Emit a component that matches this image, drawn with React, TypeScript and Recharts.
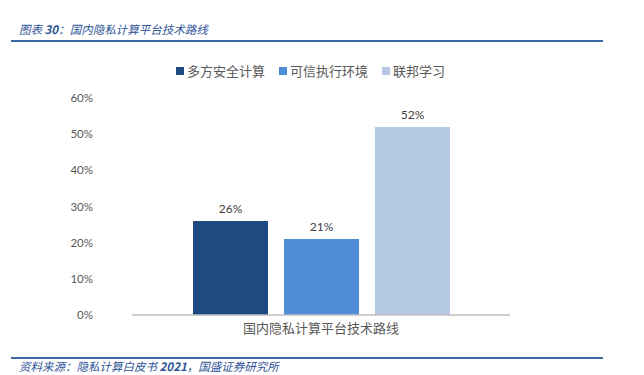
import React from 'react';
import { BarChart, Bar, XAxis, YAxis, LabelList } from 'recharts';

const categories = ['国内隐私计算平台技术路线'];
const seriesNames = ['多方安全计算', '可信执行环境', '联邦学习'];
const seriesValues = [26, 21, 52];
const seriesColors = ['#1d4a80', '#4f8ed6', '#b5c9e4'];
const yTicks = [0, 10, 20, 30, 40, 50, 60];

const data = categories.map((name) => {
  const row: Record<string, string | number> = { name };
  seriesNames.forEach((s, i) => {
    row[s] = seriesValues[i];
  });
  return row;
});

const ChartLegend = () => (
  <div
    style={{
      position: 'absolute',
      left: 176,
      top: 61,
      display: 'flex',
      gap: 14,
      fontFamily: '"Noto Sans CJK SC", sans-serif',
      fontSize: 13,
      color: '#595959',
      whiteSpace: 'nowrap',
    }}
  >
    {seriesNames.map((s, i) => (
      <div key={s} style={{ display: 'flex', alignItems: 'center' }}>
        <span style={{ width: 8, height: 8, background: seriesColors[i], display: 'inline-block', marginRight: 3 }} />
        <span>{s}</span>
      </div>
    ))}
  </div>
);

const noteStyle: React.CSSProperties = {
  position: 'absolute',
  left: 19,
  fontSize: 11.5,
  fontStyle: 'italic',
  color: '#2f5597',
  fontFamily: '"Noto Sans CJK SC", sans-serif',
  whiteSpace: 'nowrap',
};

export default function App() {
  return (
    <div style={{ position: 'absolute', left: 0, top: 0, width: 644, height: 375, background: '#fff' }}>
      <div style={{ ...noteStyle, top: 21 }}>
        图表 <b>30</b>：国内隐私计算平台技术路线
      </div>
      <div style={{ position: 'absolute', left: 11, top: 40, width: 592, height: 2, background: '#3d6aa6' }} />
      <div style={{ position: 'absolute', left: 11, top: 357, width: 592, height: 2, background: '#3d6aa6' }} />
      <div style={{ ...noteStyle, top: 358 }}>
        资料来源：隐私计算白皮书 <b>2021</b>，国盛证券研究所
      </div>
      <div style={{ position: 'absolute', left: 0, top: 0 }}>
        <BarChart
          width={644}
          height={375}
          data={data}
          margin={{ top: 98, right: 134, left: 0, bottom: 27 }}
          barSize={75}
          barGap={16}
        >
          <XAxis
            dataKey="name"
            axisLine={{ stroke: '#bfbfbf', strokeWidth: 1.5 }}
            tickLine={false}
            tickSize={0}
            tickMargin={9}
            height={33}
            tick={{ fill: '#595959', fontSize: 13, fontFamily: '"Noto Sans CJK SC", sans-serif' }}
          />
          <YAxis
            width={132}
            domain={[0, 60]}
            ticks={yTicks}
            axisLine={false}
            tickLine={false}
            tickSize={0}
            tickMargin={39}
            tickFormatter={(v) => `${v}%`}
            tick={{ fill: '#595959', fontSize: 11.5, fontFamily: 'Lato, sans-serif' }}
          />
          {seriesNames.map((s, i) => (
            <Bar key={s} dataKey={s} fill={seriesColors[i]} isAnimationActive={false}>
              <LabelList
                dataKey={s}
                position="top"
                offset={8}
                formatter={(v: any) => `${v}%`}
                style={{ fill: '#404040', fontSize: 12, fontFamily: 'Lato, sans-serif' }}
              />
            </Bar>
          ))}
        </BarChart>
      </div>
      <ChartLegend />
    </div>
  );
}
